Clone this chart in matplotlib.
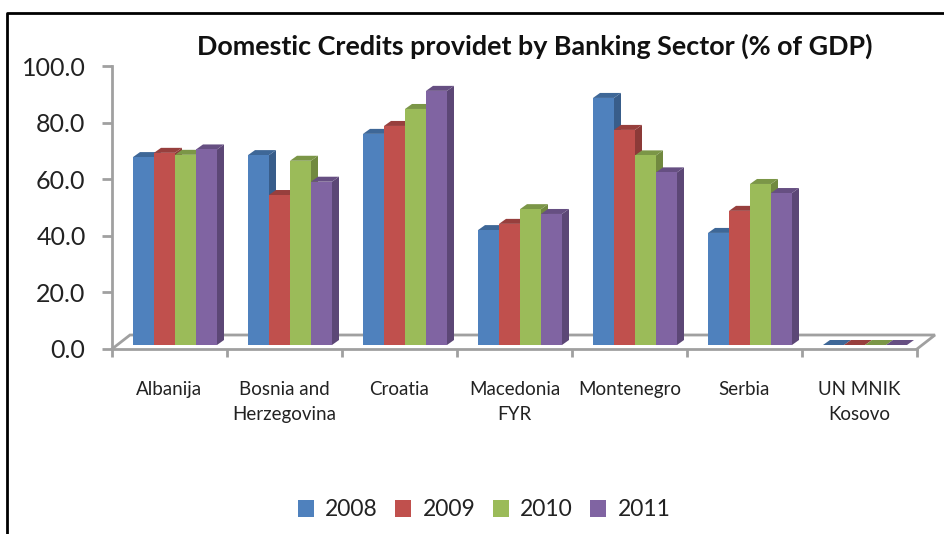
import numpy as np
import matplotlib.pyplot as plt
from matplotlib.lines import Line2D

plt.rcParams['font.family'] = ['Lato', 'DejaVu Sans']

W, H = 944, 534

categories = ["Albanija", "Bosnia and\nHerzegovina", "Croatia", "Macedonia\nFYR",
              "Montenegro", "Serbia", "UN MNIK\nKosovo"]
years = ["2008", "2009", "2010", "2011"]
v2008 = [66.4, 67.1, 74.6, 40.6, 87.3, 39.6, 0.0]
v2009 = [67.9, 53.0, 77.4, 42.8, 76.0, 47.4, 0.0]
v2010 = [67.2, 65.1, 83.4, 48.0, 67.0, 56.9, 0.0]
v2011 = [69.1, 57.7, 89.8, 46.3, 61.0, 53.7, 0.0]
series = [v2008, v2009, v2010, v2011]
yticks = [0, 20, 40, 60, 80, 100]

front = ['#4F81BD', '#C0504D', '#9BBB59', '#8064A2']
side = ['#385D8A', '#8C3A38', '#71893F', '#5C4776']
top = ['#3E6797', '#973F3D', '#7B9647', '#664F82']
grey = '#A0A0A0'


def px_axes(fig, left, right, ybottom, ytop, **kw):
    return fig.add_axes([left / W, 1 - ybottom / H, (right - left) / W, (ybottom - ytop) / H], **kw)


fig = plt.figure(figsize=(W / 100, H / 100), dpi=100, facecolor='white')

# axis frame
frame = px_axes(fig, 112, 917, 349, 66)
frame.set_xlim(0, 7)
frame.set_ylim(0, 100)
frame.set_yticks(yticks)
frame.set_yticklabels([f"{t:.1f}" for t in yticks], fontsize=18, color='#222222')
frame.set_xticks(np.arange(8))
frame.set_xticklabels([])
frame.set_xticks(np.arange(7) + 0.5, minor=True)
frame.set_xticklabels(categories, minor=True, fontsize=13.5, color='#222222', linespacing=1.6, va='top')
frame.tick_params(axis='x', which='minor', length=0, pad=23)
frame.tick_params(axis='x', which='major', length=6, width=2, color=grey)
frame.tick_params(axis='y', length=7, width=2, color=grey, pad=12)
for s in ['top', 'right']:
    frame.spines[s].set_visible(False)
for s in ['left', 'bottom']:
    frame.spines[s].set_color(grey)
    frame.spines[s].set_linewidth(2)
frame.patch.set_alpha(0)

# floor of the 3d box, back edge and sides
floor_x = np.array([112, 130, 935, 917]) / W
floor_y = 1 - np.array([349, 335, 335, 349]) / H
fig.add_artist(Line2D(floor_x, floor_y, color=grey, lw=2, solid_joinstyle='miter', zorder=0))

# bars
ax = px_axes(fig, 117.5, 922.5, 345, 62)
ax.set_xlim(0, 7)
ax.set_ylim(0, 100)
ax.axis('off')

bar_w = 21 / 115
dx = 7 / 115
dy = 5 / 2.83
x0 = np.arange(len(categories)) + 0.5
handles = []
for j, vals in enumerate(series):
    xs = x0 + (j - 1.5) * bar_w
    b = ax.bar(xs, vals, bar_w, color=front[j], zorder=3 * j + 3, label=years[j])
    handles.append(b)
    for x, v in zip(xs, vals):
        l, r = x - bar_w / 2, x + bar_w / 2
        ax.fill([l, r, r + dx, l + dx], [v, v, v + dy, v + dy], color=top[j], lw=0, zorder=3 * j + 2)
        if v > 0:
            ax.fill([r, r + dx, r + dx, r], [0, dy, v + dy, v], color=side[j], lw=0, zorder=3 * j + 1)

fig.text(535 / W, 1 - 46 / H, "Domestic Credits providet by Banking Sector (% of GDP)",
         ha='center', va='center', fontsize=19.4, fontweight='bold', color='#111111')

fig.legend(handles=handles, labels=years, loc='center', bbox_to_anchor=(484 / W, 1 - 510 / H), ncol=4,
           frameon=False, fontsize=16.5, handlelength=0.7, handleheight=0.7, handletextpad=0.5,
           columnspacing=0.75, labelcolor='#222222')

# black border of the pasted picture
fig.add_artist(Line2D(np.array([7, 7, 944]) / W, 1 - np.array([534, 13, 13]) / H, color='black', lw=2))

fig.savefig('out.png', dpi=100)
